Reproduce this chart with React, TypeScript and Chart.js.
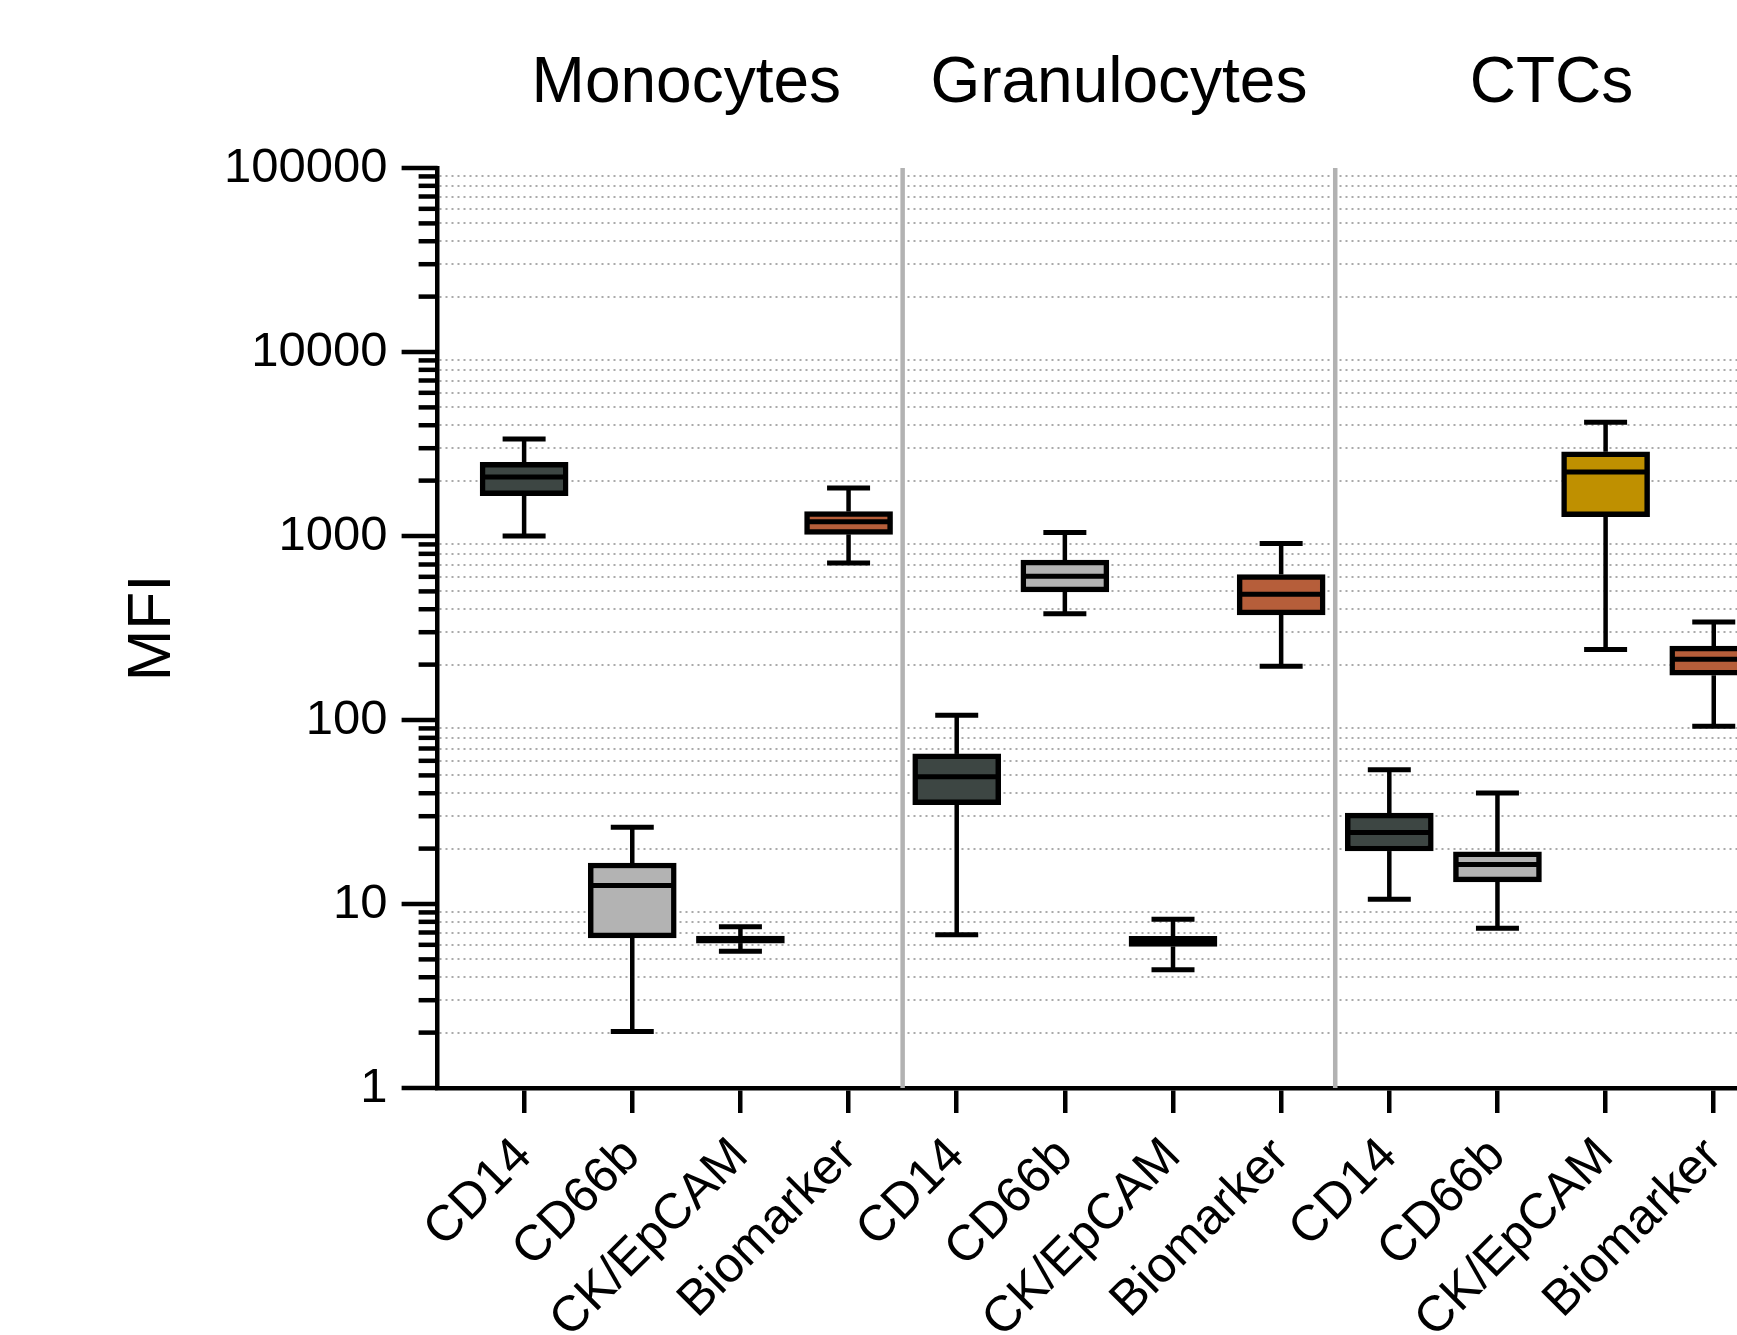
import React, { useEffect, useRef } from 'react';
import { Chart, registerables } from 'chart.js';

Chart.register(...registerables);

// ---- data ----
const groups = ['Monocytes', 'Granulocytes', 'CTCs'];
const markers = ['CD14', 'CD66b', 'CK/EpCAM', 'Biomarker'];
const markerColors = ['#3d4643', '#b3b3b3', '#bf9000', '#b65e3a'];
const categories = [
  'CD14', 'CD66b', 'CK/EpCAM', 'Biomarker',
  'CD14', 'CD66b', 'CK/EpCAM', 'Biomarker',
  'CD14', 'CD66b', 'CK/EpCAM', 'Biomarker',
];
const whiskerLow = [1000, 2.03, 5.53, 713, 6.8, 378, 4.39, 196, 10.6, 7.39, 242, 92.5];
const q1 = [1658, 6.55, 6.13, 1021, 34.7, 497, 5.88, 373, 19.4, 13.2, 1273, 175];
const median = [2092, 12.6, 6.4, 1197, 49.1, 604, 6.21, 483, 24.5, 16.4, 2229, 214];
const q3 = [2514, 16.7, 6.69, 1357, 65.4, 739, 6.68, 618, 31.2, 19.2, 2868, 252];
const whiskerHigh = [3365, 26.1, 7.52, 1823, 106, 1046, 8.27, 910, 53.7, 40.1, 4151, 341];
const yMajorTicks = [1, 10, 100, 1000, 10000, 100000];
const yMinorMultipliers = [2, 3, 4, 5, 6, 7, 8, 9];
const yTickValues = yMajorTicks.flatMap((d) =>
  d === 100000 ? [d] : [d, ...yMinorMultipliers.map((m) => m * d)]
);

const FONT = "'Liberation Sans', Arial, Helvetica, sans-serif";

const isMajor = (v: number) => yMajorTicks.includes(v);

const line = (ctx: CanvasRenderingContext2D, x1: number, y1: number, x2: number, y2: number) => {
  ctx.beginPath();
  ctx.moveTo(x1, y1);
  ctx.lineTo(x2, y2);
  ctx.stroke();
};

const decorPlugin = {
  id: 'decor',
  beforeDatasetsDraw(chart: any) {
    const { ctx, chartArea, scales } = chart;
    const x = scales.x;
    const y = scales.y;
    ctx.save();
    // group separators
    ctx.strokeStyle = '#b2b2b2';
    ctx.lineWidth = 4.5;
    for (let g = 1; g < groups.length; g++) {
      const px = x.getPixelForValue(g * markers.length - 0.5);
      line(ctx, px, chartArea.top, px, chartArea.bottom);
    }
    // whiskers
    ctx.strokeStyle = '#000';
    categories.forEach((_, i) => {
      const px = x.getPixelForValue(i);
      const yHi = y.getPixelForValue(whiskerHigh[i]);
      const yLo = y.getPixelForValue(whiskerLow[i]);
      const yQ3 = y.getPixelForValue(q3[i]);
      const yQ1 = y.getPixelForValue(q1[i]);
      ctx.lineWidth = 4.5;
      line(ctx, px, yHi, px, yQ3);
      line(ctx, px, yQ1, px, yLo);
      ctx.lineWidth = 5;
      line(ctx, px - 21.5, yHi, px + 21.5, yHi);
      line(ctx, px - 21.5, yLo, px + 21.5, yLo);
    });
    ctx.restore();
  },
  afterDatasetsDraw(chart: any) {
    const { ctx, scales } = chart;
    const x = scales.x;
    const y = scales.y;
    ctx.save();
    ctx.strokeStyle = '#000';
    ctx.lineWidth = 5;
    categories.forEach((_, i) => {
      const px = x.getPixelForValue(i);
      const yMed = y.getPixelForValue(median[i]);
      line(ctx, px - 43.5, yMed, px + 43.5, yMed);
    });
    ctx.restore();
  },
  afterDraw(chart: any) {
    const { ctx, chartArea, scales } = chart;
    const x = scales.x;
    const y = scales.y;
    ctx.save();
    // y tick marks (major long, minor short)
    ctx.strokeStyle = '#000';
    ctx.lineWidth = 4.5;
    y.ticks.forEach((t: any) => {
      const py = y.getPixelForValue(t.value);
      const len = isMajor(t.value) ? 36 : 19;
      line(ctx, chartArea.left - len, py, chartArea.left, py);
    });
    // group titles
    ctx.fillStyle = '#000';
    ctx.font = `64px ${FONT}`;
    ctx.textAlign = 'center';
    ctx.textBaseline = 'alphabetic';
    groups.forEach((g, gi) => {
      const px = x.getPixelForValue(gi * markers.length + (markers.length - 1) / 2);
      ctx.fillText(g, px, 102);
    });
    ctx.restore();
  },
};

export default function App() {
  const ref = useRef<HTMLCanvasElement>(null);

  useEffect(() => {
    if (!ref.current) return;
    const chart = new Chart(ref.current, {
      type: 'bar',
      data: {
        datasets: [
          {
            data: categories.map((_, i) => ({ x: i, y: [q1[i], q3[i]] })) as any,
            backgroundColor: categories.map((_, i) => markerColors[i % markers.length]),
            borderColor: '#000',
            borderWidth: 5.5,
            borderSkipped: false,
            barThickness: 88,
          } as any,
        ],
      },
      options: {
        animation: false,
        responsive: false,
        events: [],
        layout: { padding: { top: 168, left: 0, right: 0, bottom: 0 } },
        plugins: {
          legend: { display: false },
          tooltip: { enabled: false },
          title: { display: false },
        },
        scales: {
          x: {
            type: 'linear',
            offset: false,
            min: -0.8,
            max: 11.215,
            bounds: 'data',
            afterBuildTicks: (s: any) => {
              s.ticks = categories.map((_, i) => ({ value: i }));
            },
            afterFit: (s: any) => {
              s.height = 247;
              s.paddingLeft = 0;
              s.paddingRight = 0;
            },
            ticks: {
              autoSkip: false,
              minRotation: 45,
              maxRotation: 45,
              padding: 14,
              color: '#000',
              font: { size: 50, family: FONT },
              callback: (v: any) => categories[v as number] ?? '',
            },
            grid: {
              offset: false,
              drawOnChartArea: false,
              drawTicks: true,
              tickLength: 25,
              tickWidth: 4.5,
              tickColor: '#000',
              color: '#000',
              lineWidth: 4.5,
            },
            border: { display: true, color: '#000', width: 4.5 },
          },
          y: {
            type: 'logarithmic',
            min: 1,
            max: 100000,
            bounds: 'data',
            afterBuildTicks: (s: any) => {
              s.ticks = yTickValues.map((v) => ({ value: v }));
            },
            afterFit: (s: any) => {
              s.width = 437.6;
              s.paddingTop = 0;
              s.paddingBottom = 0;
            },
            ticks: {
              autoSkip: false,
              padding: 50,
              color: '#000',
              font: { size: 49, family: FONT },
              callback: (v: any) => (isMajor(v as number) ? String(v) : ''),
            },
            grid: {
              drawTicks: false,
              lineWidth: 2,
              color: (c: any) => (c.tick && isMajor(c.tick.value) ? 'rgba(0,0,0,0)' : '#aaaaaa'),
            },
            border: { display: true, color: '#000', width: 4.5, dash: [2, 4] },
            title: {
              display: true,
              text: 'MFI',
              color: '#000',
              font: { size: 62, family: FONT },
              padding: { top: 116, bottom: 0 },
            },
          },
        },
      } as any,
      plugins: [decorPlugin],
    });
    return () => chart.destroy();
  }, []);

  return (
    <div style={{ position: 'fixed', left: 0, top: 0, width: 1737, height: 1335, background: '#fff' }}>
      <canvas ref={ref} width={1737} height={1335} style={{ display: 'block', width: 1737, height: 1335 }} />
    </div>
  );
}
